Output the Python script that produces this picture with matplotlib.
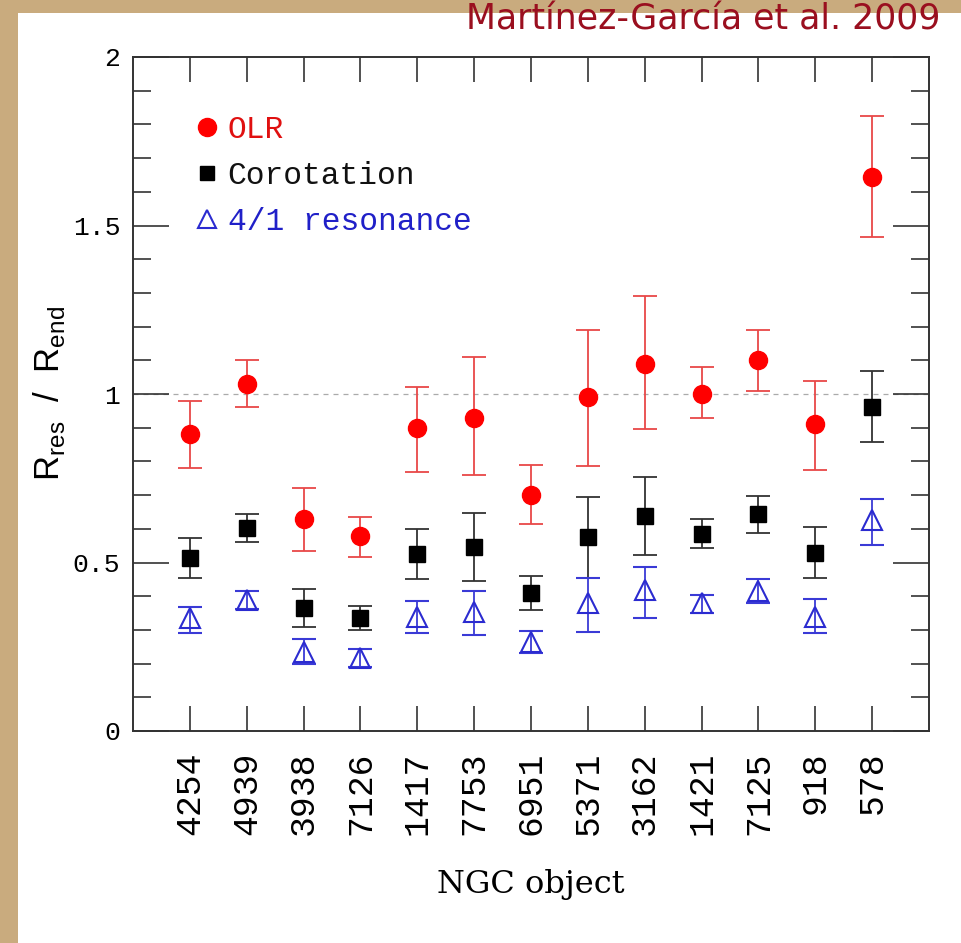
import matplotlib
matplotlib.use("Agg")
import matplotlib.pyplot as plt
from matplotlib.patches import Rectangle
from matplotlib.lines import Line2D
import numpy as np

# ---------------- data ----------------
ngc = ['4254', '4939', '3938', '7126', '1417', '7753', '6951',
       '5371', '3162', '1421', '7125', '918', '578']

olr    = [0.88, 1.03, 0.63, 0.58, 0.90, 0.93, 0.70, 0.99, 1.09, 1.00, 1.10, 0.91, 1.645]
olr_lo = [0.78, 0.96, 0.535, 0.515, 0.77, 0.76, 0.615, 0.785, 0.895, 0.93, 1.01, 0.775, 1.465]
olr_hi = [0.98, 1.10, 0.72, 0.635, 1.02, 1.11, 0.79, 1.19, 1.29, 1.08, 1.19, 1.04, 1.825]

cr    = [0.512, 0.603, 0.366, 0.336, 0.525, 0.545, 0.410, 0.577, 0.638, 0.585, 0.643, 0.529, 0.962]
cr_lo = [0.454, 0.560, 0.309, 0.300, 0.450, 0.444, 0.359, 0.455, 0.522, 0.544, 0.588, 0.453, 0.857]
cr_hi = [0.572, 0.644, 0.421, 0.371, 0.599, 0.646, 0.460, 0.694, 0.753, 0.629, 0.697, 0.606, 1.068]

r41    = [0.335, 0.389, 0.235, 0.216, 0.337, 0.354, 0.265, 0.380, 0.418, 0.379, 0.416, 0.339, 0.626]
r41_lo = [0.292, 0.361, 0.200, 0.191, 0.290, 0.285, 0.231, 0.295, 0.336, 0.349, 0.379, 0.292, 0.552]
r41_hi = [0.369, 0.416, 0.272, 0.242, 0.386, 0.416, 0.298, 0.455, 0.486, 0.405, 0.450, 0.392, 0.688]

series_labels = ['OLR', 'Corotation', '4/1 resonance']
title_text = 'Martínez-García et al. 2009'

# ---------------- figure ----------------
W, H = 961, 943
fig = plt.figure(figsize=(W / 100, H / 100), dpi=100)
fig.patch.set_facecolor('#c9ab7e')
# white panel
fig.add_artist(Rectangle((18 / W, 0), 1, 1 - 13 / H, transform=fig.transFigure,
                         facecolor='white', edgecolor='none', zorder=0))

ax = fig.add_axes([133 / W, 212 / H, 796 / W, 674 / H])
ax.set_facecolor('white')

x = np.arange(1, len(ngc) + 1)

def yerr(v, lo, hi):
    v = np.array(v); lo = np.array(lo); hi = np.array(hi)
    return np.vstack([v - lo, hi - v])

ax.axhline(1.0, color='#aaaaaa', lw=0.9, ls=(0, (4, 4)), zorder=1)

ax.errorbar(x, olr, yerr=yerr(olr, olr_lo, olr_hi), fmt='o', color='#ff0000',
            ecolor='#e84848', elinewidth=1.3, capsize=8.5, capthick=1.3,
            markersize=13, zorder=3)
ax.errorbar(x, cr, yerr=yerr(cr, cr_lo, cr_hi), fmt='s', color='#000000',
            ecolor='#333333', elinewidth=1.3, capsize=8.5, capthick=1.3,
            markersize=11, zorder=3)
ax.errorbar(x, r41, yerr=yerr(r41, r41_lo, r41_hi), fmt='^', color='#2b2bd0',
            markerfacecolor='none', markeredgecolor='#2b2bd0', markeredgewidth=1.5,
            ecolor='#3a3ad6', elinewidth=1.3, capsize=8.5, capthick=1.3,
            markersize=14, zorder=3)

ax.set_xlim(0, 14)
ax.set_ylim(0, 2)

ax.set_xticks(x)
ax.set_xticklabels(ngc, rotation=90, fontfamily='Liberation Mono', fontsize=25)
ax.set_yticks([0, 0.5, 1, 1.5, 2])
ax.set_yticklabels(['0', '0.5', '1', '1.5', '2'], fontfamily='Liberation Mono', fontsize=19)
ax.set_yticks(np.arange(0, 2.0001, 0.1), minor=True)

ax.tick_params(axis='both', which='both', direction='in', top=True, right=True,
               color='#333333', width=1.2)
ax.tick_params(axis='x', which='major', length=18, pad=15)
ax.tick_params(axis='y', which='major', length=26, pad=9)
ax.tick_params(axis='y', which='minor', length=13)
for s in ax.spines.values():
    s.set_color('#333333')
    s.set_linewidth(1.4)

ax.set_xlabel('NGC object', fontfamily='DejaVu Serif', fontsize=23, labelpad=24)
ax.set_ylabel(r'R$_{\mathregular{res}}$  /  R$_{\mathregular{end}}$',
              fontfamily='Liberation Sans', fontsize=25, labelpad=4)

handles = [
    Line2D([], [], ls='none', marker='o', color='#ff0000', markersize=13),
    Line2D([], [], ls='none', marker='s', color='#000000', markersize=10),
    Line2D([], [], ls='none', marker='^', markerfacecolor='none',
           markeredgecolor='#2b2bd0', markeredgewidth=1.5, markersize=13),
]
leg = ax.legend(handles, series_labels, loc='upper left', bbox_to_anchor=(0.06, 0.932),
                frameon=False, handlelength=0.9, handletextpad=0.2, labelspacing=0.5,
                borderaxespad=0, prop={'family': 'Liberation Mono', 'size': 22.5},
                labelcolor=['#e01010', '#111111', '#2020c8'])

fig.text(466 / W, 1 - 20 / H, title_text, color='#9a0f1f', fontsize=25,
         fontfamily='DejaVu Sans', va='center', ha='left')

fig.savefig('out.png', dpi=100)
